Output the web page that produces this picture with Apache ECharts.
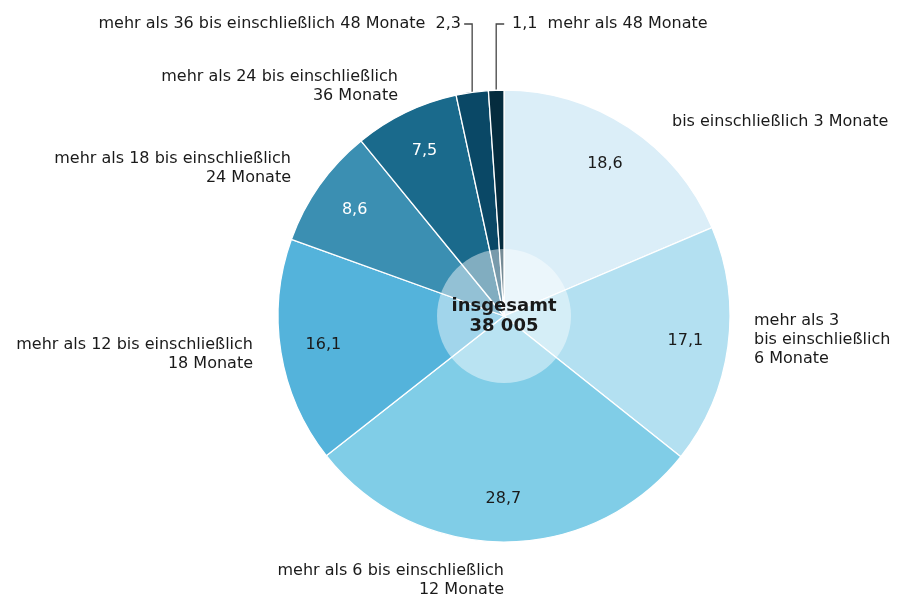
<!DOCTYPE html>
<html>
<head>
<meta charset="utf-8">
<script src="https://cdn.jsdelivr.net/npm/echarts@6/dist/echarts.min.js"></script>
<style>
  html, body { margin: 0; padding: 0; background: #fff; }
  #chart { width: 898px; height: 599px; }
</style>
</head>
<body>
<div id="chart"></div>
<script>
// data (percent shares, clockwise from 12 o'clock)
const categories = [
  'bis einschließlich 3 Monate',
  'mehr als 3\nbis einschließlich\n6 Monate',
  'mehr als 6 bis einschließlich\n12 Monate',
  'mehr als 12 bis einschließlich\n18 Monate',
  'mehr als 18 bis einschließlich\n24 Monate',
  'mehr als 24 bis einschließlich\n36 Monate',
  'mehr als 36 bis einschließlich 48 Monate',
  'mehr als 48 Monate'
];
const shares = [18.6, 17.1, 28.7, 16.1, 8.6, 7.5, 2.3, 1.1];
const totalLabel = 'insgesamt';
const totalValue = 38005;

// styling
const sliceColors = ['#dbeef8', '#b3e0f1', '#80cde7', '#54b3db', '#3b8fb2', '#1a6a8c', '#0a4866', '#052c3e'];
const valueColors = ['#1a1a1a', '#1a1a1a', '#1a1a1a', '#1a1a1a', '#fff', '#fff', null, null];
// label anchor per slice: [x, y, align]
const nameAnchors = [
  [672, 122, 'left'],
  [754, 340, 'left'],
  [504, 580, 'right'],
  [253, 354, 'right'],
  [291, 168, 'right'],
  [398, 86, 'right'],
  [461, 24, 'right'],
  [512, 24, 'left']
];
const leaderTopY = 24;

const fmt = v => v.toFixed(1).replace('.', ',');
const fmtInt = v => String(v).replace(/\B(?=(\d{3})+(?!\d))/g, ' ');

const font = 'DejaVu Sans';
const center = [504, 316];
const R = 226;

const chart = echarts.init(document.getElementById('chart'));

const slices = shares.map((v, i) => ({
  value: v,
  name: categories[i],
  itemStyle: { color: sliceColors[i] }
}));

const ghost = { color: 'transparent', borderWidth: 0 };

chart.setOption({
  animation: false,
  series: [
    {
      // slices
      type: 'pie',
      center: center,
      radius: [0, R],
      startAngle: 90,
      clockwise: true,
      silent: true,
      itemStyle: { borderColor: '#fff', borderWidth: 1.3 },
      label: { show: false },
      labelLine: { show: false },
      data: slices
    },
    {
      // translucent disc in the middle
      type: 'pie',
      center: center,
      radius: [0, 67],
      silent: true,
      itemStyle: { color: 'rgba(255,255,255,0.45)', borderWidth: 0 },
      label: {
        show: true,
        position: 'center',
        formatter: p => p.name + '\n' + fmtInt(p.value),
        fontFamily: font,
        fontSize: 18,
        fontWeight: 'bold',
        lineHeight: 20,
        color: '#1a1a1a'
      },
      labelLine: { show: false },
      data: [{ value: totalValue, name: totalLabel }]
    },
    {
      // values inside the slices
      type: 'pie',
      center: center,
      radius: [134, R],
      startAngle: 90,
      silent: true,
      itemStyle: ghost,
      labelLine: { show: false },
      data: shares.map((v, i) => ({
        value: v,
        name: categories[i],
        label: {
          show: valueColors[i] !== null,
          position: 'inside',
          formatter: p => fmt(p.value),
          fontFamily: font,
          fontSize: 16,
          color: valueColors[i] || '#1a1a1a'
        }
      }))
    },
    {
      // category names outside
      type: 'pie',
      center: center,
      radius: [0, R],
      startAngle: 90,
      silent: true,
      avoidLabelOverlap: false,
      itemStyle: ghost,
      label: {
        show: true,
        position: 'outside',
        fontFamily: font,
        fontSize: 16,
        lineHeight: 19,
        color: '#1a1a1a',
        formatter: p => {
          if (p.dataIndex === 6) return p.name + '  ' + fmt(p.value);
          if (p.dataIndex === 7) return fmt(p.value) + '  ' + p.name;
          return p.name;
        }
      },
      labelLine: { show: false, lineStyle: { color: '#444', width: 1.3 } },
      labelLayout: params => {
        const a = nameAnchors[params.dataIndex];
        const out = { x: a[0], y: a[1], align: a[2], verticalAlign: 'middle' };
        if (params.dataIndex >= 6 && params.labelLinePoints) {
          const p0 = params.labelLinePoints[0];
          const dx = params.dataIndex === 6 ? -8 : 8;
          out.labelLinePoints = [[p0[0], p0[1]], [p0[0], leaderTopY], [p0[0] + dx, leaderTopY]];
        }
        return out;
      },
      data: shares.map((v, i) => ({
        value: v,
        name: categories[i],
        labelLine: { show: i >= 6 }
      }))
    }
  ]
});
</script>
</body>
</html>
